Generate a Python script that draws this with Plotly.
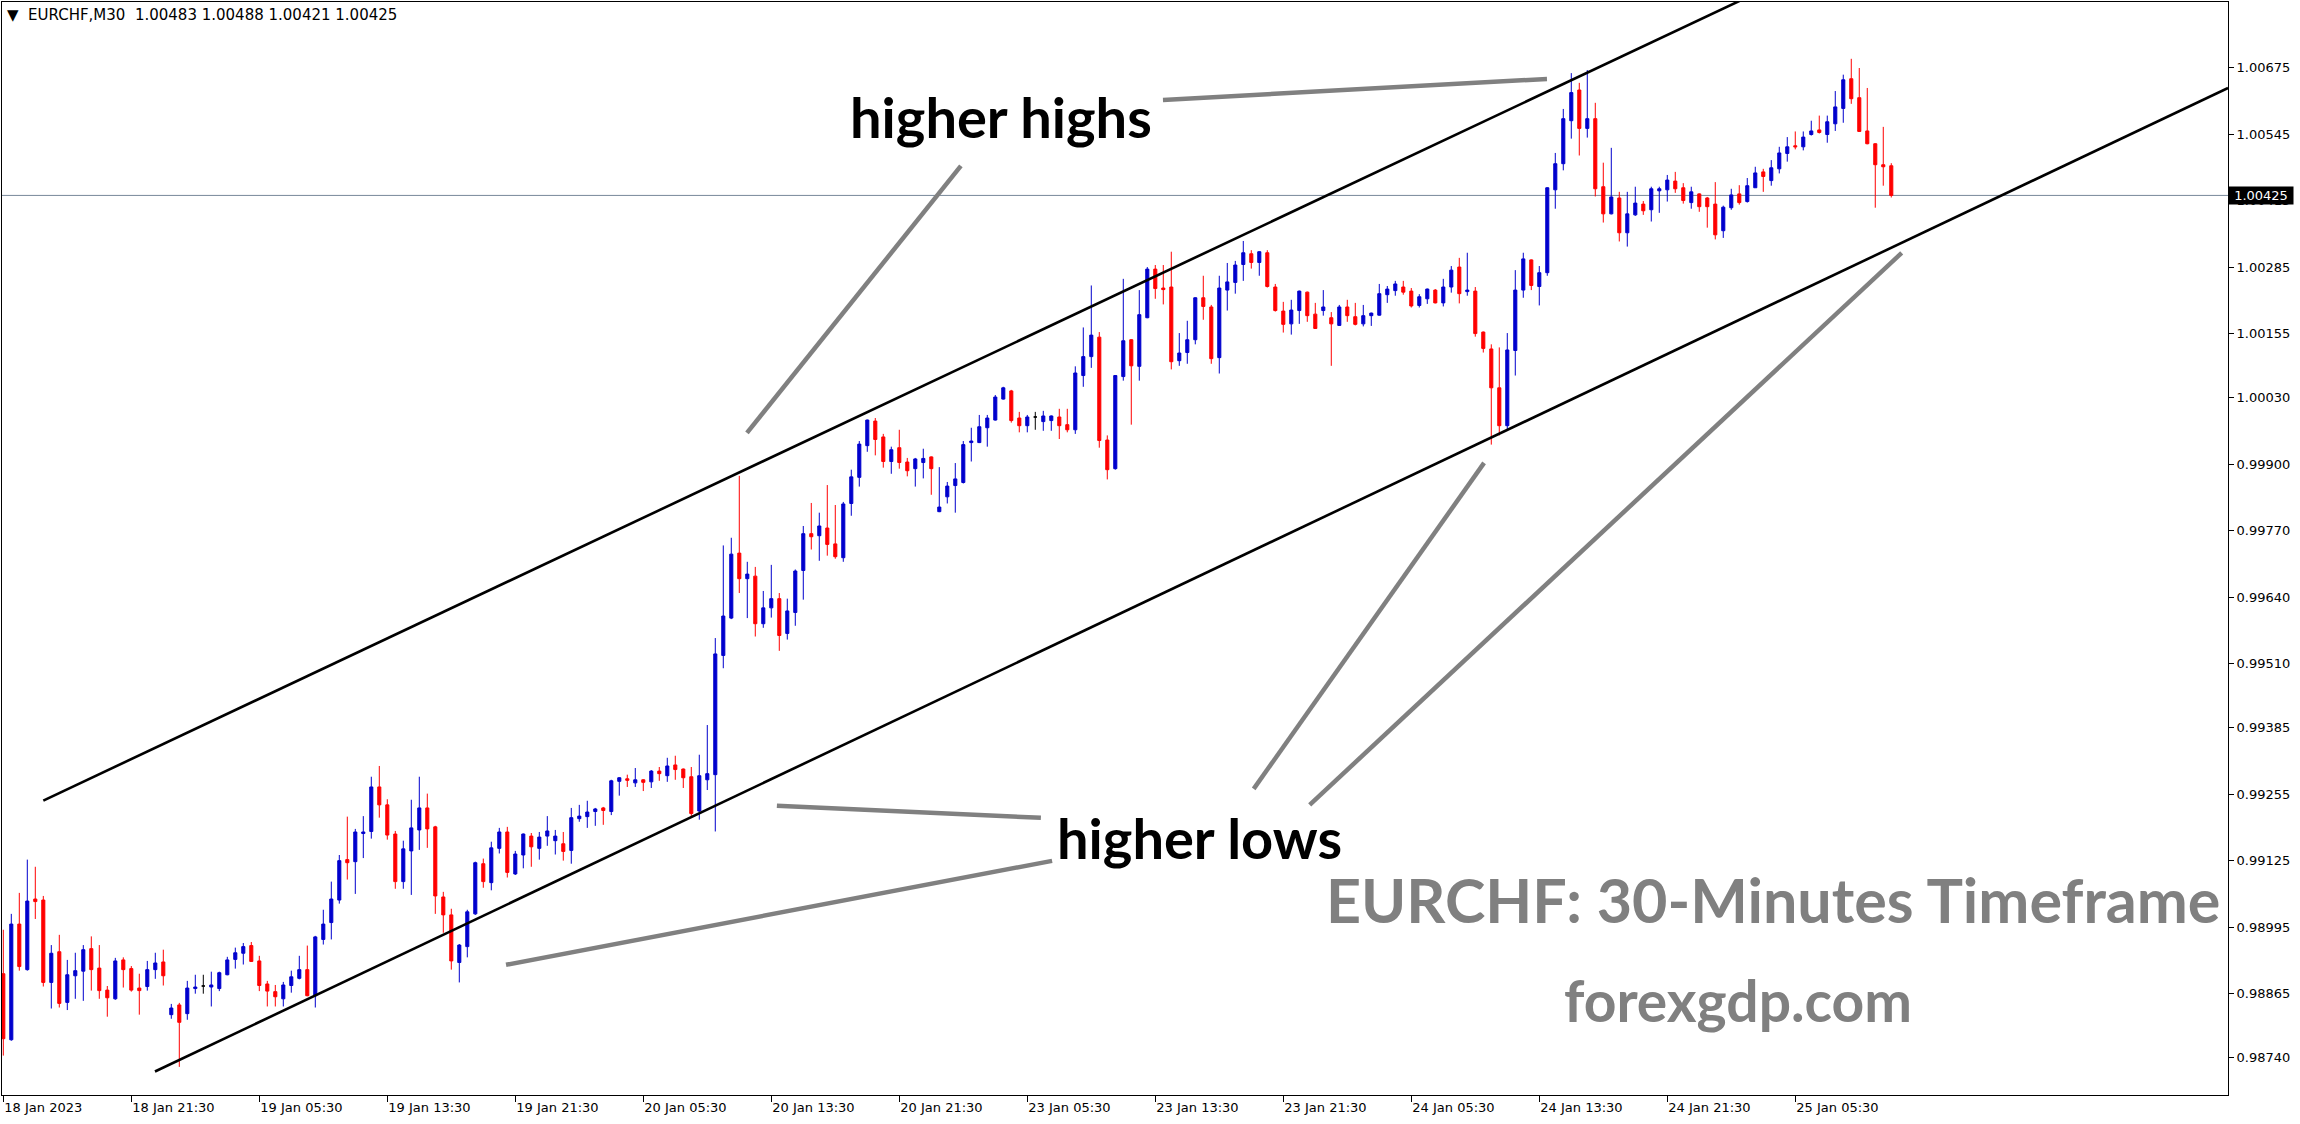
import plotly.graph_objects as go

# ---------------- data (EURCHF M30, bar 0 = 18 Jan 2023 13:30) ----------------
open_ = [0.98904,0.98775,0.99001,0.98912,0.99050,0.99048,0.98887,0.98947,0.98848,0.98900,
         0.98909,0.98953,0.98915,0.98872,0.98855,0.98931,0.98914,0.98876,0.98879,0.98912,
         0.98927,0.98824,0.98843,0.98826,0.98875,0.98880,0.98878,0.98875,0.98902,0.98932,
         0.98944,0.98959,0.98929,0.98884,0.98869,0.98855,0.98881,0.98895,0.98912,0.98861,
         0.98971,0.99004,0.99048,0.99127,0.99123,0.99178,0.99182,0.99269,0.99234,0.99177,
         0.99084,0.99144,0.99185,0.99228,0.99191,0.99054,0.99019,0.98926,0.98957,0.99021,
         0.99119,0.99082,0.99149,0.99181,0.99099,0.99136,0.99173,0.99149,0.99173,0.99164,
         0.99158,0.99145,0.99207,0.99211,0.99221,0.99228,0.99221,0.99280,0.99285,0.99277,
         0.99283,0.99279,0.99300,0.99291,0.99312,0.99304,0.99289,0.99222,0.99283,0.99293,
         0.99526,0.99599,0.99726,0.99676,0.99681,0.99588,0.99619,0.99637,0.99569,0.99610,
         0.99692,0.99764,0.99760,0.99775,0.99744,0.99717,0.99823,0.99874,0.99936,0.99984,
         0.99953,0.99905,0.99932,0.99904,0.99891,0.99903,0.99914,0.99807,0.99836,0.99858,
         0.99864,0.99942,0.99942,0.99971,0.99986,1.00027,1.00043,0.99990,0.99975,0.99992,
         0.99983,0.99985,0.99992,0.99977,0.99967,1.00073,1.00110,1.00148,0.99947,0.99891,
         1.00071,1.00143,1.00091,1.00186,1.00281,1.00244,1.00246,1.00102,1.00118,1.00143,
         1.00225,1.00207,1.00108,1.00240,1.00255,1.00290,1.00311,1.00294,1.00313,1.00246,
         1.00199,1.00174,1.00200,1.00236,1.00193,1.00200,1.00186,1.00171,1.00207,1.00188,
         1.00174,1.00190,1.00191,1.00231,1.00239,1.00246,1.00238,1.00210,1.00223,1.00240,
         1.00215,1.00246,1.00285,1.00237,1.00238,1.00158,1.00125,1.00049,0.99975,1.00122,
         1.00240,1.00299,1.00247,1.00274,1.00436,1.00487,1.00571,1.00631,1.00556,1.00575,
         1.00442,1.00389,1.00420,1.00352,1.00387,1.00408,1.00397,1.00434,1.00436,1.00453,
         1.00440,1.00411,1.00428,1.00420,1.00408,1.00356,1.00401,1.00428,1.00413,1.00440,
         1.00471,1.00454,1.00477,1.00507,1.00522,1.00520,1.00544,1.00553,1.00544,1.00565,
         1.00595,1.00653,1.00616,1.00551,1.00526,1.00485,1.00483]
high = [0.98990,0.99021,0.99062,0.99127,0.99113,0.99056,0.98960,0.98980,0.98931,0.98945,
        0.98960,0.98977,0.98960,0.98880,0.98935,0.98936,0.98919,0.98904,0.98929,0.98945,
        0.98951,0.98845,0.98847,0.98890,0.98902,0.98902,0.98908,0.98908,0.98937,0.98955,
        0.98964,0.98966,0.98939,0.98890,0.98882,0.98888,0.98910,0.98939,0.98959,0.98978,
        0.99029,0.99084,0.99136,0.99211,0.99187,0.99212,0.99289,0.99310,0.99245,0.99183,
        0.99164,0.99244,0.99289,0.99256,0.99193,0.99064,0.99031,0.98962,0.99029,0.99123,
        0.99129,0.99162,0.99189,0.99191,0.99144,0.99178,0.99179,0.99181,0.99212,0.99185,
        0.99181,0.99228,0.99234,0.99242,0.99228,0.99230,0.99283,0.99288,0.99293,0.99306,
        0.99284,0.99302,0.99308,0.99326,0.99330,0.99305,0.99308,0.99332,0.99390,0.99560,
        0.99741,0.99756,0.99877,0.99709,0.99699,0.99652,0.99703,0.99648,0.99637,0.99694,
        0.99779,0.99824,0.99805,0.99859,0.99820,0.99826,0.99889,0.99945,0.99987,0.99990,
        0.99959,0.99934,0.99967,0.99912,0.99912,0.99930,0.99915,0.99894,0.99865,0.99902,
        0.99945,0.99971,0.99996,0.99996,1.00035,1.00051,1.00045,1.00002,0.99996,1.00002,
        1.00004,0.99995,1.00008,1.00008,1.00091,1.00167,1.00249,1.00158,0.99956,1.00074,
        1.00262,1.00144,1.00240,1.00285,1.00289,1.00289,1.00315,1.00156,1.00180,1.00226,
        1.00268,1.00211,1.00268,1.00293,1.00297,1.00336,1.00318,1.00316,1.00318,1.00252,
        1.00217,1.00221,1.00239,1.00237,1.00215,1.00240,1.00197,1.00211,1.00221,1.00215,
        1.00211,1.00196,1.00252,1.00248,1.00258,1.00258,1.00244,1.00232,1.00243,1.00242,
        1.00262,1.00287,1.00303,1.00313,1.00246,1.00159,1.00134,1.00128,1.00156,1.00279,
        1.00313,1.00300,1.00287,1.00441,1.00508,1.00594,1.00664,1.00645,1.00670,1.00606,
        1.00489,1.00518,1.00432,1.00432,1.00442,1.00414,1.00442,1.00442,1.00465,1.00471,
        1.00449,1.00442,1.00429,1.00422,1.00451,1.00405,1.00438,1.00445,1.00459,1.00481,
        1.00477,1.00494,1.00520,1.00539,1.00550,1.00550,1.00571,1.00581,1.00581,1.00629,
        1.00661,1.00692,1.00674,1.00635,1.00527,1.00559,1.00488]
low = [0.98744,0.98773,0.98910,0.98910,0.99011,0.98879,0.98836,0.98838,0.98833,0.98855,
       0.98851,0.98871,0.98855,0.98820,0.98853,0.98877,0.98869,0.98824,0.98871,0.98894,
       0.98881,0.98816,0.98722,0.98814,0.98865,0.98865,0.98840,0.98870,0.98901,0.98914,
       0.98922,0.98927,0.98870,0.98840,0.98840,0.98840,0.98867,0.98893,0.98860,0.98838,
       0.98961,0.98971,0.99041,0.99088,0.99060,0.99130,0.99168,0.99209,0.99166,0.99070,
       0.99070,0.99058,0.99146,0.99150,0.99021,0.98984,0.98912,0.98887,0.98936,0.99019,
       0.99072,0.99067,0.99139,0.99092,0.99097,0.99110,0.99113,0.99127,0.99154,0.99137,
       0.99125,0.99119,0.99201,0.99189,0.99193,0.99195,0.99214,0.99252,0.99269,0.99269,
       0.99261,0.99267,0.99281,0.99279,0.99283,0.99267,0.99211,0.99205,0.99263,0.99182,
       0.99501,0.99597,0.99648,0.99599,0.99563,0.99580,0.99600,0.99535,0.99557,0.99584,
       0.99635,0.99733,0.99711,0.99721,0.99715,0.99709,0.99799,0.99856,0.99924,0.99917,
       0.99893,0.99881,0.99891,0.99876,0.99856,0.99872,0.99840,0.99806,0.99823,0.99805,
       0.99862,0.99905,0.99941,0.99934,0.99985,1.00026,0.99981,0.99962,0.99962,0.99967,
       0.99965,0.99965,0.99949,0.99962,0.99959,1.00051,1.00088,0.99932,0.99870,0.99889,
       1.00063,0.99977,1.00063,1.00185,1.00223,1.00212,1.00085,1.00092,1.00096,1.00134,
       1.00182,1.00096,1.00077,1.00200,1.00233,1.00258,1.00282,1.00268,1.00245,1.00198,
       1.00157,1.00153,1.00174,1.00178,1.00164,1.00190,1.00092,1.00170,1.00178,1.00171,
       1.00169,1.00170,1.00190,1.00215,1.00229,1.00231,1.00206,1.00206,1.00213,1.00214,
       1.00208,1.00235,1.00214,1.00229,1.00149,1.00118,0.99938,0.99956,0.99967,1.00073,
       1.00225,1.00240,1.00210,1.00268,1.00399,1.00474,1.00536,1.00503,1.00538,1.00423,
       1.00372,1.00388,1.00335,1.00325,1.00385,1.00387,1.00374,1.00391,1.00413,1.00430,
       1.00409,1.00399,1.00393,1.00362,1.00339,1.00342,1.00397,1.00407,1.00411,1.00440,
       1.00432,1.00444,1.00468,1.00491,1.00515,1.00513,1.00542,1.00546,1.00528,1.00551,
       1.00567,1.00604,1.00549,1.00525,1.00401,1.00444,1.00421]
close = [0.98777,0.99001,0.98918,0.99046,0.99045,0.98887,0.98944,0.98846,0.98902,0.98910,
         0.98951,0.98912,0.98871,0.98857,0.98929,0.98912,0.98872,0.98871,0.98912,0.98925,
         0.98900,0.98837,0.98809,0.98876,0.98878,0.98880,0.98882,0.98906,0.98931,0.98945,
         0.98957,0.98928,0.98881,0.98870,0.98859,0.98882,0.98898,0.98912,0.98861,0.98976,
         0.99001,0.99050,0.99125,0.99121,0.99181,0.99181,0.99269,0.99234,0.99175,0.99084,
         0.99148,0.99189,0.99228,0.99187,0.99056,0.99019,0.98929,0.98960,0.99025,0.99121,
         0.99084,0.99150,0.99181,0.99102,0.99138,0.99177,0.99152,0.99171,0.99183,0.99173,
         0.99143,0.99209,0.99212,0.99220,0.99226,0.99223,0.99281,0.99287,0.99282,0.99283,
         0.99278,0.99300,0.99295,0.99310,0.99303,0.99287,0.99217,0.99291,0.99295,0.99529,
         0.99603,0.99724,0.99676,0.99685,0.99588,0.99619,0.99637,0.99565,0.99613,0.99691,
         0.99764,0.99758,0.99779,0.99743,0.99719,0.99822,0.99875,0.99939,0.99986,0.99948,
         0.99905,0.99928,0.99903,0.99887,0.99910,0.99911,0.99891,0.99816,0.99857,0.99871,
         0.99938,0.99945,0.99973,0.99990,1.00031,1.00049,0.99985,0.99975,0.99992,0.99992,
         0.99994,0.99994,0.99975,0.99967,1.00078,1.00110,1.00152,0.99946,0.99889,1.00073,
         1.00141,1.00092,1.00192,1.00281,1.00243,1.00241,1.00100,1.00117,1.00143,1.00225,
         1.00208,1.00106,1.00244,1.00256,1.00289,1.00313,1.00294,1.00315,1.00247,1.00200,
         1.00173,1.00201,1.00238,1.00190,1.00165,1.00207,1.00174,1.00207,1.00190,1.00173,
         1.00190,1.00195,1.00233,1.00242,1.00252,1.00236,1.00209,1.00227,1.00242,1.00215,
         1.00246,1.00279,1.00233,1.00240,1.00155,1.00126,1.00049,0.99975,1.00123,1.00240,
         1.00301,1.00249,1.00274,1.00440,1.00487,1.00575,1.00626,1.00556,1.00575,1.00438,
         1.00389,1.00422,1.00352,1.00389,1.00410,1.00395,1.00438,1.00438,1.00455,1.00438,
         1.00415,1.00432,1.00403,1.00403,1.00348,1.00402,1.00426,1.00411,1.00444,1.00469,
         1.00462,1.00479,1.00508,1.00520,1.00520,1.00539,1.00551,1.00548,1.00569,1.00598,
         1.00651,1.00614,1.00550,1.00526,1.00485,1.00481,1.00425]

bar_index = list(range(len(open_)))

x_tick_bars = [0, 16, 32, 48, 64, 80, 96, 112, 128, 144, 160, 176, 192, 208, 224]
x_tick_labels = ["18 Jan 2023", "18 Jan 21:30", "19 Jan 05:30", "19 Jan 13:30", "19 Jan 21:30",
                 "20 Jan 05:30", "20 Jan 13:30", "20 Jan 21:30", "23 Jan 05:30", "23 Jan 13:30",
                 "23 Jan 21:30", "24 Jan 05:30", "24 Jan 13:30", "24 Jan 21:30", "25 Jan 05:30"]
y_tick_values = [1.00675, 1.00545, 1.00415, 1.00285, 1.00155, 1.00030, 0.99900, 0.99770,
                 0.99640, 0.99510, 0.99385, 0.99255, 0.99125, 0.98995, 0.98865, 0.98740]
y_tick_labels = ["%.5f" % v for v in y_tick_values]

symbol = "EURCHF,M30"
last_bar = (open_[-1], high[-1], low[-1], close[-1])

# trend channel (bar index, price)
upper_channel = [(5.0, 0.992424), (240.0, 1.009744)]
lower_channel = [(18.96, 0.987129), (278.1, 1.006350)]
# gray pointer lines (bar index, price)
pointers = [
    ((144.96, 1.006116), (192.96, 1.006526)),
    ((119.7, 1.004826), (92.96, 0.999609)),
    ((129.7, 0.992086), (96.7, 0.992321)),
    ((131.1, 0.991246), (62.84, 0.989214)),
    ((156.3, 0.992653), (185.1, 0.999023)),
    ((163.3, 0.992340), (237.3, 1.003126)),
]

BLUE = "#0000cd"
RED = "#ff0000"
FONT = "DejaVu Sans"

bull = [i for i in bar_index if close[i] > open_[i]]
bear = [i for i in bar_index if close[i] < open_[i]]
doji = [i for i in bar_index if close[i] == open_[i]]


def candle_trace(idx, color):
    return go.Candlestick(
        x=[bar_index[i] for i in idx],
        open=[open_[i] for i in idx],
        high=[high[i] for i in idx],
        low=[low[i] for i in idx],
        close=[close[i] for i in idx],
        increasing=dict(line=dict(color=color, width=1), fillcolor=color),
        decreasing=dict(line=dict(color=color, width=1), fillcolor=color),
        whiskerwidth=0,
        hoverinfo="skip",
        showlegend=False,
    )


fig = go.Figure([candle_trace(bull, BLUE), candle_trace(bear, RED), candle_trace(doji, "#000000")])

shapes = []
for (x0, y0), (x1, y1) in [upper_channel, lower_channel]:
    shapes.append(dict(type="line", xref="x", yref="y", x0=x0, y0=y0, x1=x1, y1=y1,
                       line=dict(color="#000000", width=2.6), layer="above"))
for (x0, y0), (x1, y1) in pointers:
    shapes.append(dict(type="line", xref="x", yref="y", x0=x0, y0=y0, x1=x1, y1=y1,
                       line=dict(color="#808080", width=4.5), layer="above"))
# bid line
shapes.append(dict(type="line", xref="paper", yref="y", x0=0, x1=1, y0=close[-1], y1=close[-1],
                   line=dict(color="#778899", width=1), layer="below"))

annotations = [
    dict(xref="paper", yref="paper", x=0.0013, y=0.988, xanchor="left", yanchor="middle",
         text="\u25BC\u00a0\u00a0%s\u00a0\u00a0%.5f %.5f %.5f %.5f" % ((symbol,) + last_bar),
         showarrow=False, font=dict(family=FONT, size=15, color="#000000")),
    dict(xref="paper", yref="y", x=1, y=close[-1], xanchor="left", yanchor="middle",
         text="\u00a0%.5f\u00a0" % close[-1], showarrow=False, bgcolor="#000000", borderpad=1,
         font=dict(family=FONT, size=13, color="#ffffff")),
    dict(xref="x", yref="y", x=124.7, y=1.00580, text="<b>higher highs</b>", showarrow=False,
         font=dict(family="Lato", size=56, color="#000000")),
    dict(xref="x", yref="y", x=149.5, y=0.99170, text="<b>higher lows</b>", showarrow=False,
         font=dict(family="Lato", size=56, color="#000000")),
    dict(xref="x", yref="y", x=221.2, y=0.99050, text="<b>EURCHF: 30-Minutes Timeframe</b>",
         showarrow=False, font=dict(family="Lato", size=61, color="#808080")),
    dict(xref="x", yref="y", x=216.8, y=0.98853, text="<b>forexgdp.com</b>", showarrow=False,
         font=dict(family="Lato", size=57, color="#808080")),
]

fig.update_layout(
    width=2300, height=1124,
    margin=dict(l=2, r=72, t=2, b=29, pad=0),
    paper_bgcolor="#ffffff", plot_bgcolor="#ffffff",
    boxgap=0.45,
    shapes=shapes, annotations=annotations,
    hovermode=False,
    xaxis=dict(range=[-0.1625, 278.09], tickmode="array", tickvals=x_tick_bars, ticktext=x_tick_labels,
               ticks="outside", ticklen=6, tickcolor="#000000", tickwidth=1,
               ticklabelposition="outside right",
               showline=True, linecolor="#000000", linewidth=1, mirror=True,
               showgrid=False, zeroline=False, rangeslider=dict(visible=False),
               tickfont=dict(family=FONT, size=13, color="#000000")),
    yaxis=dict(side="right", range=[0.98667, 1.00803], tickmode="array", tickvals=y_tick_values,
               ticktext=y_tick_labels, ticks="outside", ticklen=5, tickcolor="#000000",
               showline=True, linecolor="#000000", linewidth=1, mirror=True,
               showgrid=False, zeroline=False,
               tickfont=dict(family=FONT, size=13, color="#000000")),
)

fig.write_html("out.html", config={"displayModeBar": False},
               post_script="document.body.style.margin='0';document.body.style.overflow='hidden';")
